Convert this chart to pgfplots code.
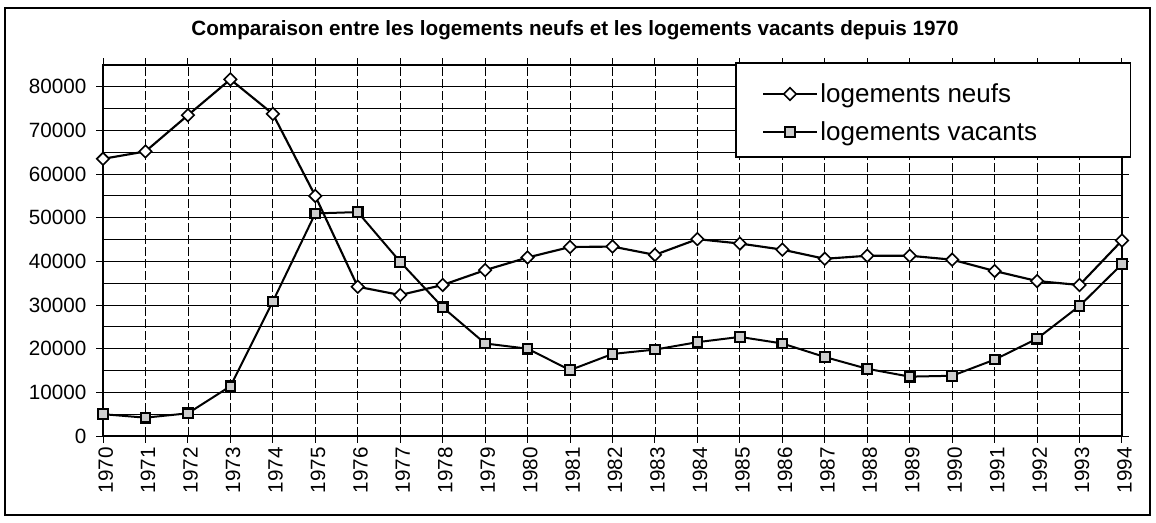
\documentclass[border=0pt]{standalone}
\usepackage{pgfplots}
\pgfplotsset{compat=1.18}
\usepackage{pgfplotstable}
\usepackage{fontspec}
\setmainfont{Liberation Sans}

\pgfplotstableread{
year neufs vacants
1970 63500 5000
1971 65200 4200
1972 73500 5200
1973 81700 11400
1974 73800 30800
1975 55000 51000
1976 34200 51300
1977 32300 39900
1978 34600 29500
1979 38000 21200
1980 40900 20000
1981 43300 15100
1982 43400 18800
1983 41500 19800
1984 45100 21500
1985 44100 22700
1986 42700 21200
1987 40600 18100
1988 41300 15400
1989 41300 13600
1990 40400 13800
1991 37800 17500
1992 35500 22300
1993 34600 29800
1994 44800 39400
}\data

\begin{document}
\begin{tikzpicture}[x=1pt,y=1pt]
\useasboundingbox (-77.25,-64.5) rectangle (789.75,327);
\draw[line width=1pt] (-73.5,-59.25) rectangle (785.25,321);
\node[font=\fontsize{15.5}{18}\selectfont\bfseries] at (354,304.5) {Comparaison entre les logements neufs et les logements vacants depuis 1970};
\begin{axis}[
  at={(0,0)}, anchor=south west,
  scale only axis, width=764.25pt, height=278.25pt,
  clip=false,
  xmin=1970, xmax=1994, ymin=0, ymax=85000,
  xtick={1970,...,1994},
  ytick={0,10000,...,80000},
  minor ytick={5000,15000,...,85000},
  scaled y ticks=false,
  /pgf/number format/1000 sep={},
  /pgf/number format/assume math mode=true,
  tick label style={font=\fontsize{15.5}{18}\selectfont},
  xticklabel style={rotate=90, anchor=east, yshift=-2pt},
  yticklabel style={xshift=-4pt},
  tick align=outside,
  major tick length=5pt, minor tick length=0pt,
  tick style={black, line width=0.7pt},
  axis line style={black, line width=0.8pt},
  xmajorgrids, ymajorgrids, yminorgrids,
  x grid style={black, line width=0.6pt, dash pattern=on 7pt off 2pt},
  y grid style={black, line width=0.7pt},
  minor grid style={black, line width=0.7pt},
  legend style={draw=none, fill=none, anchor=west,
    at={(axis description cs:0.6467,0.8706)},
    inner xsep=0pt, inner ysep=0pt, row sep=9pt,
    font=\fontsize{19.5}{23}\selectfont},
  legend cell align=left,
  legend image code/.code={\draw[mark repeat=2,mark phase=2,#1] plot coordinates {(0pt,0pt) (20pt,0pt) (40pt,0pt)};},
]
\addplot[black, line width=1.6pt, mark=square*, mark size=3.3pt,
  mark options={rotate=45, fill=white, draw=black, line width=1.2pt, solid}]
  table[x=year, y=neufs] {\data};
\addlegendentry{logements neufs}
\addplot[black, line width=1.5pt, mark=square*, mark size=3.6pt,
  mark options={fill=gray!40, draw=black, line width=1.6pt, solid}]
  table[x=year, y=vacants] {\data};
\addlegendentry{logements vacants}
\draw[fill=white, line width=0.8pt] (rel axis cs:0.6212,1.0054) rectangle (rel axis cs:1.0079,0.752);
\end{axis}
\end{tikzpicture}
\end{document}
